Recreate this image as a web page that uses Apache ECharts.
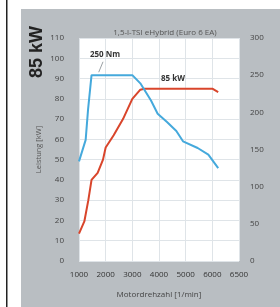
<!DOCTYPE html>
<html>
<head>
<meta charset="utf-8" />
<title>1,5-l-TSI eHybrid</title>
<script src="https://cdn.jsdelivr.net/npm/echarts@6/dist/echarts.min.js"></script>
<style>
	html, body { margin: 0; padding: 0; background: #fff; }
	#chart { width: 280px; height: 307px; }
</style>
</head>
<body>
<div id="chart"></div>
<script type="text/javascript">
// x-Achse: Beschriftung der Ticks
var rpmTicks = ['1000', '2000', '3000', '4000', '5000', '6000', '6500'];
var kwTicks = [0, 10, 20, 30, 40, 50, 60, 70, 80, 90, 100, 110];
var nmTicks = [0, 50, 100, 150, 200, 250, 300];

// Leistung [kW] ueber Drehzahl
var leistung = [
	[1000, 13.5], [1200, 19.5], [1350, 30], [1470, 40], [1700, 43.5],
	[1900, 50], [2000, 56], [2300, 62], [2650, 70], [3000, 80],
	[3300, 84.5], [3450, 85], [6000, 85], [6220, 83.3]
];
// Drehmoment [Nm] ueber Drehzahl
var drehmoment = [
	[1000, 134], [1250, 163], [1340, 204], [1470, 250], [3000, 250],
	[3300, 239], [3700, 216], [3950, 198], [4300, 187], [4650, 175],
	[4900, 161], [5450, 152], [5850, 143], [6220, 125]
];

var myChart = echarts.init(document.getElementById('chart'));
var font = 'Open Sans';
var option = {
	animation: false,
	backgroundColor: '#b9bec2',
	textStyle: { fontFamily: font },
	title: {
		text: '1,5-l-TSI eHybrid (Euro 6 EA)',
		left: 160, textAlign: 'center', top: 24,
		textStyle: { fontSize: 8, fontWeight: 'normal', color: '#555', fontFamily: font }
	},
	grid: {
		left: 79, right: 41, top: 38, bottom: 46,
		outerBoundsMode: 'none',
		show: true, backgroundColor: '#fff', borderWidth: 0
	},
	xAxis: {
		type: 'value', min: 1000, max: 7000, interval: 1000,
		name: 'Motordrehzahl [1/min]', nameLocation: 'middle', nameGap: 30,
		nameMoveOverlap: false,
		nameTextStyle: { fontSize: 8, color: '#444' },
		axisLine: { show: false }, axisTick: { show: false },
		axisLabel: {
			fontSize: 8, color: '#333', margin: 10,
			formatter: function (v) { return rpmTicks[Math.round((v - 1000) / 1000)]; }
		},
		splitLine: { lineStyle: { color: '#dfe4e8', width: 1 } }
	},
	yAxis: [{
		type: 'value', min: kwTicks[0], max: kwTicks[kwTicks.length - 1], interval: 10,
		name: 'Leistung [kW]', nameLocation: 'middle', nameGap: 36,
		nameMoveOverlap: false,
		nameTextStyle: { fontSize: 7.5, color: '#555' },
		axisLine: { show: false }, axisTick: { show: false },
		axisLabel: { fontSize: 8, color: '#444', margin: 15 },
		splitLine: { lineStyle: { color: '#dfe4e8', width: 1 } }
	}, {
		type: 'value', min: nmTicks[0], max: nmTicks[nmTicks.length - 1], interval: 50,
		position: 'right',
		// Name liegt im Original fast ausserhalb des Bildes
		name: 'Drehmoment [Nm]', nameLocation: 'middle', nameGap: 54,
		nameTextStyle: { fontSize: 7.5, color: '#555' },
		axisLine: { show: false }, axisTick: { show: false },
		axisLabel: { fontSize: 8, color: '#444', margin: 11 },
		splitLine: { show: false }
	}],
	series: [{
		name: 'Leistung',
		type: 'line', yAxisIndex: 0,
		data: leistung, showSymbol: false, z: 3,
		lineStyle: { color: '#d9452b', width: 2 }
	}, {
		name: 'Drehmoment',
		type: 'line', yAxisIndex: 1,
		data: drehmoment, showSymbol: false, z: 4,
		lineStyle: { color: '#45a9dc', width: 2 },
		markLine: {
			silent: true, symbol: 'none', label: { show: false },
			lineStyle: { color: '#9aa0a4', width: 1, type: 'solid' },
			data: [[{ coord: [1900, 268] }, { coord: [1740, 254] }]]
		}
	}],
	graphic: [
		// weisser Rand links und oben
		{ type: 'rect', shape: { x: 0, y: 0, width: 21, height: 307 }, style: { fill: '#fff' }, silent: true },
		{ type: 'rect', shape: { x: 0, y: 0, width: 280, height: 9 }, style: { fill: '#fff' }, silent: true },
		{ type: 'rect', shape: { x: 6, y: 0, width: 1.5, height: 307 }, style: { fill: '#222' }, silent: true },
		{
			type: 'text', x: 37, y: 52, rotation: Math.PI / 2,
			style: { text: '85 kW', fontSize: 18, fontWeight: 'bold', fontFamily: 'Liberation Sans', fill: '#222', align: 'center', verticalAlign: 'middle' }
		},
		{
			type: 'text', x: 105, y: 55, z: 10,
			style: { text: '250 Nm', fontSize: 8, fontWeight: 'bold', fontFamily: font, fill: '#333', align: 'center', verticalAlign: 'middle' }
		},
		{
			type: 'text', x: 173, y: 79, z: 10,
			style: { text: '85 kW', fontSize: 8, fontWeight: 'bold', fontFamily: font, fill: '#333', align: 'center', verticalAlign: 'middle' }
		}
	]
};
myChart.setOption(option);
</script>
</body>
</html>
